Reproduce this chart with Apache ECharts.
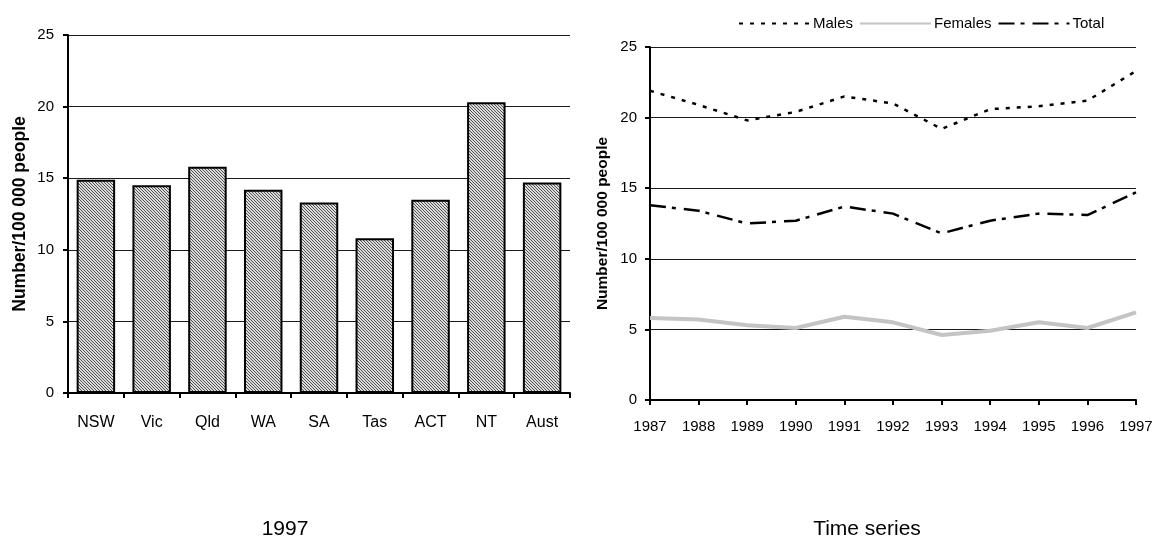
<!DOCTYPE html>
<html>
<head>
<meta charset="utf-8">
<script src="https://cdn.jsdelivr.net/npm/echarts@6/dist/echarts.min.js"></script>
<style>html,body{margin:0;padding:0;background:#fff}#c{width:1153px;height:538px}</style>
</head>
<body>
<div id="c"></div>
<script>
// ---- data ----
const states = ['NSW','Vic','Qld','WA','SA','Tas','ACT','NT','Aust'];
const rates1997 = [14.9, 14.5, 15.8, 14.2, 13.3, 10.8, 13.5, 20.3, 14.7];
const years = ['1987','1988','1989','1990','1991','1992','1993','1994','1995','1996','1997'];
const males   = [21.9, 20.9, 19.8, 20.4, 21.5, 21.0, 19.2, 20.6, 20.8, 21.2, 23.3];
const females = [5.8, 5.7, 5.3, 5.1, 5.9, 5.5, 4.6, 4.9, 5.5, 5.1, 6.2];
const total   = [13.8, 13.4, 12.5, 12.7, 13.7, 13.2, 11.8, 12.7, 13.2, 13.1, 14.7];

// hatch pattern
const pc = document.createElement('canvas');
pc.width = 3; pc.height = 3;
const pctx = pc.getContext('2d');
pctx.fillStyle = '#dcdcdc'; pctx.fillRect(0,0,3,3);
pctx.fillStyle = '#505050';
for (let i = 0; i < 3; i++) pctx.fillRect(i, i, 1, 1);

const font = 'Liberation Sans, Arial, sans-serif';
const axisLineStyle = {color:'#000', width:2};
const tickStyle = {show: true, length: 5, lineStyle: {color:'#000', width: 2}};

const chart = echarts.init(document.getElementById('c'), null, {renderer:'canvas'});
chart.setOption({
  animation: false,
  textStyle: {fontFamily: font, color: '#000'},
  title: [
    {text: '1997', left: 280, top: 514, textAlign: 'center',
     textStyle: {fontSize: 21, fontWeight: 'normal', color: '#000', fontFamily: font}},
    {text: 'Time series', left: 862, top: 514, textAlign: 'center',
     textStyle: {fontSize: 21, fontWeight: 'normal', color: '#000', fontFamily: font}}
  ],
  legend: {
    data: ['Males','Females','Total'],
    left: 733, top: 11,
    itemWidth: 71, itemHeight: 12, itemGap: 6,
    itemStyle: {opacity: 0},
    textStyle: {fontSize: 15, color: '#000', fontFamily: font, padding: [8,0,0,-2]}
  },
  grid: [
    {left: 68, right: 583, top: 35, bottom: 145, outerBoundsMode: 'none', containLabel: false},
    {left: 650, right: 17, top: 47, bottom: 138, outerBoundsMode: 'none', containLabel: false}
  ],
  xAxis: [
    {type: 'category', gridIndex: 0, data: states,
     axisLine: {lineStyle: axisLineStyle},
     axisTick: tickStyle,
     axisLabel: {fontSize: 16, color: '#000', margin: 22, fontFamily: font}},
    {type: 'category', gridIndex: 1, data: years, boundaryGap: false,
     axisLine: {lineStyle: axisLineStyle},
     axisTick: tickStyle,
     axisLabel: {fontSize: 15, color: '#000', margin: 19, fontFamily: font}}
  ],
  yAxis: [
    {type: 'value', gridIndex: 0, min: 0, max: 25, interval: 5,
     name: 'Number/100 000 people', nameLocation: 'middle', nameGap: 39,
     nameTextStyle: {fontSize: 17.5, fontWeight: 'bold', color: '#000', fontFamily: font},
     axisLine: {show: true, lineStyle: axisLineStyle},
     axisTick: tickStyle,
     axisLabel: {fontSize: 15, color: '#000', margin: 14, fontFamily: font},
     splitLine: {show: true, lineStyle: {color: '#1a1a1a', width: 1}}},
    {type: 'value', gridIndex: 1, min: 0, max: 25, interval: 5,
     name: 'Number/100 000 people', nameLocation: 'middle', nameGap: 39,
     nameTextStyle: {fontSize: 15.5, fontWeight: 'bold', color: '#000', fontFamily: font},
     axisLine: {show: true, lineStyle: axisLineStyle},
     axisTick: tickStyle,
     axisLabel: {fontSize: 15, color: '#000', margin: 13, fontFamily: font},
     splitLine: {show: true, lineStyle: {color: '#1a1a1a', width: 1}}}
  ],
  series: [
    {type: 'bar', xAxisIndex: 0, yAxisIndex: 0, data: rates1997,
     barCategoryGap: '31%',
     itemStyle: {color: {image: pc, repeat: 'repeat'}, borderColor: '#000', borderWidth: 2}},
    {name: 'Males', type: 'line', xAxisIndex: 1, yAxisIndex: 1, data: males,
     symbol: 'none', lineStyle: {color: '#000', width: 2.5, type: [4, 7]},
     itemStyle: {color: '#000'}},
    {name: 'Females', type: 'line', xAxisIndex: 1, yAxisIndex: 1, data: females,
     symbol: 'none', lineStyle: {color: '#c4c4c4', width: 4},
     itemStyle: {color: '#c4c4c4'}},
    {name: 'Total', type: 'line', xAxisIndex: 1, yAxisIndex: 1, data: total,
     symbol: 'none', lineStyle: {color: '#000', width: 2.5, type: [16, 6, 4, 8]},
     itemStyle: {color: '#000'}}
  ]
});
</script>
</body>
</html>
